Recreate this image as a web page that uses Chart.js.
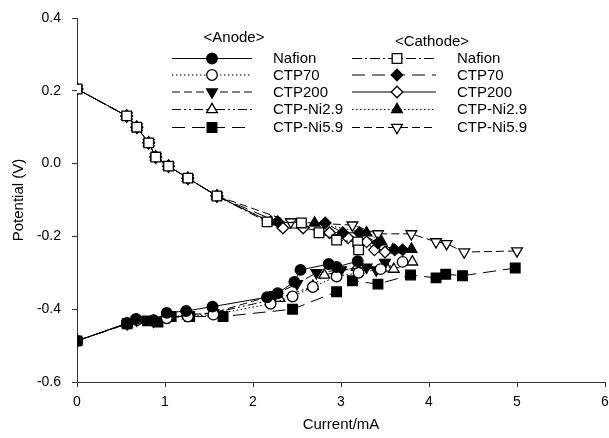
<!DOCTYPE html>
<html>
<head>
<meta charset="utf-8">
<script src="https://cdn.jsdelivr.net/npm/chart.js@4.4.1/dist/chart.umd.min.js"></script>
<style>
  html, body { margin: 0; padding: 0; background: #fff; overflow: hidden; }
  #wrap { width: 609px; height: 438px; position: relative; }
</style>
</head>
<body>
<div id="wrap"><canvas id="c"></canvas></div>
<script>
/* ===== DATA ===== */
const xTicks = [0, 1, 2, 3, 4, 5, 6];
const yTicks = [-0.6, -0.4, -0.2, 0.0, 0.2, 0.4];

// common start of every cathode curve
const cathodeStart = [[0, 0.205], [0.565, 0.131], [0.68, 0.10], [0.815, 0.057], [0.895, 0.018], [1.04, -0.007], [1.26, -0.04], [1.59, -0.089]];

const catNafion = [[2.16, -0.16], [2.55, -0.163], [2.75, -0.19], [2.95, -0.21], [3.19, -0.215], [3.2, -0.237]];
const catCTP70 = [[2.28, -0.16], [2.82, -0.163], [3.02, -0.19], [3.21, -0.19], [3.42, -0.218], [3.61, -0.237], [3.7, -0.237]];
const catCTP200 = [[2.34, -0.177], [2.57, -0.177], [2.87, -0.19], [3.08, -0.204], [3.29, -0.215], [3.38, -0.237], [3.5, -0.243]];
const catNi29 = [[2.2, -0.16], [2.7, -0.163], [3.29, -0.19], [3.46, -0.215], [3.59, -0.237], [3.8, -0.235]];
const catNi59 = [[2.43, -0.16], [3.13, -0.169], [3.42, -0.193], [3.8, -0.193], [4.08, -0.215], [4.2, -0.22], [4.4, -0.243], [5.0, -0.24]];

const anNafion = [[0, -0.487], [0.57, -0.438], [0.67, -0.427], [0.87, -0.43], [1.02, -0.41], [1.24, -0.405], [1.54, -0.393], [2.16, -0.367], [2.28, -0.356], [2.47, -0.325], [2.54, -0.292], [2.86, -0.276], [2.95, -0.284], [3.19, -0.268]];
const anCTP70 = [[0, -0.487], [0.57, -0.44], [0.68, -0.43], [0.87, -0.432], [1.02, -0.425], [1.26, -0.42], [1.55, -0.415], [2.2, -0.385], [2.45, -0.365], [2.68, -0.339], [2.95, -0.31], [3.2, -0.3], [3.45, -0.29], [3.7, -0.27]];
const anCTP200 = [[0, -0.487], [0.57, -0.44], [0.68, -0.43], [0.87, -0.433], [1.04, -0.42], [1.26, -0.415], [1.55, -0.41], [2.25, -0.36], [2.5, -0.33], [2.72, -0.30], [3.0, -0.292], [3.29, -0.285], [3.4, -0.292], [3.5, -0.272]];
const anNi29 = [[0, -0.487], [0.57, -0.44], [0.68, -0.43], [0.87, -0.433], [1.04, -0.42], [1.26, -0.418], [1.55, -0.41], [2.3, -0.37], [2.68, -0.337], [2.81, -0.306], [3.18, -0.285], [3.52, -0.287], [3.6, -0.29], [3.81, -0.27]];
const anNi59 = [[0, -0.487], [0.57, -0.44], [0.8, -0.432], [0.92, -0.435], [1.07, -0.42], [1.28, -0.42], [1.66, -0.42], [2.45, -0.40], [2.95, -0.352], [3.13, -0.322], [3.42, -0.331], [3.79, -0.306], [4.08, -0.314], [4.19, -0.304], [4.38, -0.308], [4.98, -0.287]];

const anodeLabels = ['Nafion', 'CTP70', 'CTP200', 'CTP-Ni2.9', 'CTP-Ni5.9'];
const cathodeLabels = ['Nafion', 'CTP70', 'CTP200', 'CTP-Ni2.9', 'CTP-Ni5.9'];

/* ===== STYLES ===== */
const DOT = [1.5, 2.5];
const DASH = [8, 4];
const LONG = [13, 7];
const DASH_DOT = [10, 3, 2, 3];
const DASH_DOT_DOT = [9, 3, 2, 3, 2, 3];

// marker: style, filled, rotation, radius
const anodeStyles = [
  { dash: [], pt: 'circle', fill: true, rot: 0, r: 5.3 },
  { dash: DOT, pt: 'circle', fill: false, rot: 0, r: 5.3 },
  { dash: DASH, pt: 'triangle', fill: true, rot: 180, r: 6.2 },
  { dash: DASH_DOT_DOT, pt: 'triangle', fill: false, rot: 0, r: 6.2 },
  { dash: LONG, pt: 'rect', fill: true, rot: 0, r: 6.8 },
];
const cathodeStyles = [
  { dash: DASH_DOT, pt: 'rect', fill: false, rot: 0, r: 6.8 },
  { dash: LONG, pt: 'rectRot', fill: true, rot: 0, r: 5.8 },
  { dash: [], pt: 'rectRot', fill: false, rot: 0, r: 5.8 },
  { dash: DOT, pt: 'triangle', fill: true, rot: 0, r: 6.2 },
  { dash: DASH, pt: 'triangle', fill: false, rot: 180, r: 6.2 },
];

const toXY = arr => arr.map(p => ({ x: p[0], y: p[1] }));

function ds(label, pts, st) {
  return {
    label,
    data: toXY(pts),
    showLine: true,
    borderColor: '#000',
    borderWidth: 1,
    borderDash: st.dash,
    pointStyle: st.pt,
    pointRotation: st.rot,
    pointRadius: st.r,
    pointBorderWidth: 1.3,
    pointBorderColor: '#000',
    pointBackgroundColor: st.fill ? '#000' : '#fff',
    pointHoverRadius: st.r,
  };
}

const anodeSeries = [anNafion, anCTP70, anCTP200, anNi29, anNi59];
const cathodeSeries = [catNafion, catCTP70, catCTP200, catNi29, catNi59].map(s => cathodeStart.concat(s));

const datasets = [];
anodeSeries.forEach((s, i) => datasets.push(ds('Anode ' + anodeLabels[i], s, anodeStyles[i])));
cathodeSeries.forEach((s, i) => datasets.push(ds('Cathode ' + cathodeLabels[i], s, cathodeStyles[i])));

/* ===== LEGEND PLUGIN ===== */
const FONT = 'Liberation Sans, Arial, sans-serif';

function legendColumn(ctx, title, tx, ty, labels, styles, x0, x1, mx, lx, rows) {
  ctx.fillStyle = '#000';
  ctx.font = '15px ' + FONT;
  ctx.textAlign = 'center';
  ctx.textBaseline = 'middle';
  ctx.fillText(title, tx, ty);
  labels.forEach((lab, i) => {
    const y = rows[i], st = styles[i];
    ctx.save();
    ctx.strokeStyle = '#000';
    ctx.lineWidth = 1;
    ctx.setLineDash(st.dash);
    ctx.beginPath();
    ctx.moveTo(x0, y + 0.5);
    ctx.lineTo(x1, y + 0.5);
    ctx.stroke();
    ctx.restore();
    ctx.save();
    ctx.strokeStyle = '#000';
    ctx.fillStyle = st.fill ? '#000' : '#fff';
    ctx.lineWidth = 1.3;
    Chart.helpers.drawPoint(ctx, { pointStyle: st.pt, radius: st.r, rotation: st.rot, borderWidth: 1.3 }, mx, y + 0.5);
    ctx.restore();
    ctx.fillStyle = '#000';
    ctx.textAlign = 'left';
    ctx.fillText(lab, lx, y + 1);
  });
}

const boxLegend = {
  id: 'boxLegend',
  afterDatasetsDraw(chart) {
    const { ctx } = chart;
    const rows = [58, 74.5, 91.5, 109, 127];
    ctx.save();
    legendColumn(ctx, '<Anode>', 234, 38, anodeLabels, anodeStyles, 172, 252, 212, 273, rows);
    legendColumn(ctx, '<Cathode>', 432, 42, cathodeLabels, cathodeStyles, 352, 436, 397, 457, rows);
    ctx.restore();
  }
};

/* ===== CHART ===== */
Chart.defaults.font.family = FONT;
Chart.defaults.color = '#000';

const chart = new Chart(document.getElementById('c'), {
  type: 'scatter',
  data: { datasets },
  options: {
    responsive: true,
    maintainAspectRatio: false,
    animation: false,
    layout: { padding: { top: 18, right: 0, left: 0, bottom: 0 } },
    plugins: { legend: { display: false }, tooltip: { enabled: false } },
    scales: {
      x: {
        type: 'linear', min: 0, max: 6,
        afterBuildTicks: s => { s.ticks = xTicks.map(v => ({ value: v })); },
        afterFit: s => { s.height = 56; s.paddingLeft = 0; s.paddingRight = 0; },
        grid: { display: true, drawOnChartArea: false, drawTicks: true, tickLength: 5, color: '#333' },
        border: { display: true, color: '#333', width: 1 },
        ticks: { font: { size: 14 }, padding: 7, color: '#000', maxRotation: 0 },
        title: { display: true, text: 'Current/mA', font: { size: 15 }, padding: { top: 5 }, color: '#000' }
      },
      y: {
        type: 'linear', min: -0.6, max: 0.4,
        afterBuildTicks: s => { s.ticks = yTicks.map(v => ({ value: v })); },
        afterFit: s => { s.width = 77; s.paddingTop = 0; s.paddingBottom = 0; },
        grid: { display: true, drawOnChartArea: false, drawTicks: true, tickLength: 5, color: '#333' },
        border: { display: true, color: '#333', width: 1 },
        ticks: { font: { size: 14 }, padding: 11, color: '#000', callback: v => v.toFixed(1) },
        title: { display: true, text: 'Potential (V)', font: { size: 15 }, padding: { top: 10, bottom: 4 }, color: '#000' }
      }
    }
  },
  plugins: [boxLegend]
});

// the x-axis should end at 605px; widen the box past the window edge if the layout keeps a margin
const extra = 605 - chart.chartArea.right;
if (extra > 0) {
  document.getElementById('wrap').style.width = (609 + extra) + 'px';
  chart.resize();
}
</script>
</body>
</html>
